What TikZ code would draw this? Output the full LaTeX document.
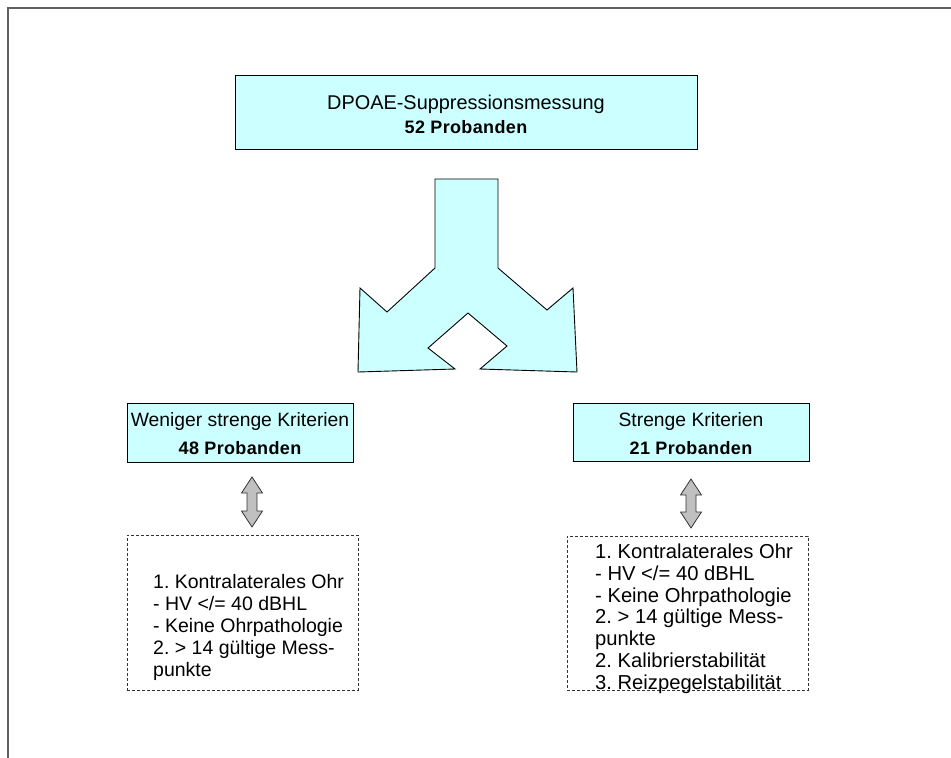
\documentclass[tikz,border=0pt]{standalone}
\usepackage{fontspec}
\setmainfont{Liberation Sans}
\frenchspacing
\definecolor{boxcyan}{HTML}{CCFFFF}
\definecolor{arrgray}{HTML}{C0C0C0}
\definecolor{framegray}{HTML}{606060}
\tikzset{
  cyanbox/.style={draw=black, line width=0.9pt, fill=boxcyan, inner sep=0pt},
  dashbox/.style={draw=black!80, line width=0.8pt, dash pattern=on 3pt off 2pt, inner sep=0pt},
  listtextL/.style={anchor=base west, inner sep=0pt, font=\fontsize{19.5}{22}\selectfont},
  listtextR/.style={anchor=base west, inner sep=0pt, font=\fontsize{20.2}{22}\selectfont},
  titletext/.style={anchor=base, inner sep=0pt, font=\fontsize{19.3}{22}\selectfont},
  toptext/.style={anchor=base, inner sep=0pt, font=\fontsize{19.9}{22}\selectfont},
  boldtext/.style={anchor=base, inner sep=0pt, font=\fontsize{18}{22}\selectfont\bfseries\addfontfeature{LetterSpace=2}},
  bigarrow/.style={draw=black, line width=0.9pt, fill=boxcyan, line join=miter},
  dblarrow/.style={draw=black!80, line width=0.8pt, fill=arrgray}
}
\begin{document}
\begin{tikzpicture}[x=1pt,y=-1pt]
\useasboundingbox (0,0) rectangle (951,758);
% frame
\draw[framegray, line width=2pt] (951,8) -- (8,8) -- (8,758);

% top box
\node[cyanbox, minimum width=462pt, minimum height=74pt] (top) at (466,112) {};
\node[toptext] (topa) at (466,109) {DPOAE-Suppressionsmessung};
\node[boldtext] (topb) at (466,133) {52 Probanden};

% split arrow
\draw[bigarrow] (435,179) -- (498,179) -- (498,268) -- (547,310) -- (573,288) -- (577,372)
  -- (480,369) -- (507,346) -- (468,313) -- (428,348) -- (455,369) -- (358,372)
  -- (360,288) -- (387,312) -- (435,268) -- cycle;

% middle boxes
\node[cyanbox, minimum width=226pt, minimum height=59pt] (ml) at (240,432.5) {};
\node[titletext] (mla) at (240,426) {Weniger strenge Kriterien};
\node[boldtext] (mlb) at (240,454) {48 Probanden};

\node[cyanbox, minimum width=236pt, minimum height=58pt] (mr) at (691,432) {};
\node[titletext] (mra) at (691,426) {Strenge Kriterien};
\node[boldtext] (mrb) at (691,454) {21 Probanden};

% double arrows
\foreach \cx/\ta/\tb in {252/477/527, 691/479/528}{
  \draw[dblarrow] (\cx,\ta) -- (\cx+10.5,\ta+16) -- (\cx+5,\ta+16) -- (\cx+5,\tb-16)
    -- (\cx+10.5,\tb-16) -- (\cx,\tb) -- (\cx-10.5,\tb-16) -- (\cx-5,\tb-16)
    -- (\cx-5,\ta+16) -- (\cx-10.5,\ta+16) -- cycle;
}

% dashed boxes
\node[dashbox, minimum width=231pt, minimum height=155pt] (dl) at (242.5,612.5) {};
\node[dashbox, minimum width=241pt, minimum height=154pt] (dr) at (687.5,613) {};

\foreach [count=\i] \t in {{1. Kontralaterales Ohr},{- HV </= 40 dBHL},{- Keine Ohrpathologie},{2. > 14 gültige Mess-},{punkte}}{
  \node[listtextL] (tl\i) at (153,588.5+22*\i-22) {\t};
}
\foreach [count=\i] \t in {{1. Kontralaterales Ohr},{- HV </= 40 dBHL},{- Keine Ohrpathologie},{2. > 14 gültige Mess-},{punkte},{2. Kalibrierstabilität},{3. Reizpegelstabilität}}{
  \node[listtextR] (tr\i) at (595,558.5+21.8*\i-21.8) {\t};
}
\end{tikzpicture}
\end{document}
